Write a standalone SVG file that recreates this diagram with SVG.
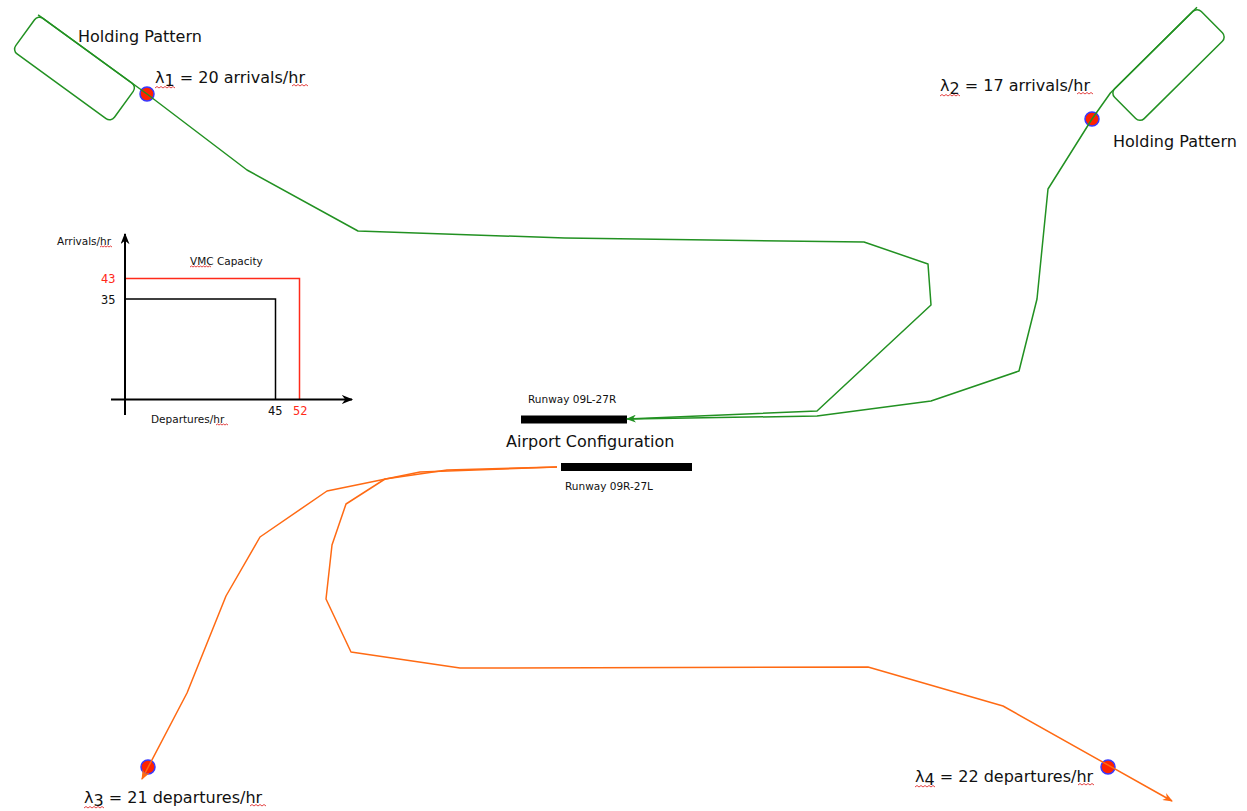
<svg xmlns="http://www.w3.org/2000/svg" width="1247" height="811" viewBox="0 0 1247 811">
<style>
text{font-family:"DejaVu Sans","Liberation Sans",sans-serif;fill:#111}
.big{font-size:16px}
.sm{font-size:10.5px}
.num{font-family:"DejaVu Sans Mono","Liberation Mono",monospace;font-size:12px}
.g{fill:none;stroke:#229122;stroke-width:1.5;stroke-linejoin:round}
.o{fill:none;stroke:#ff6a13;stroke-width:1.5;stroke-linejoin:round}
.dot{fill:#ff2200;stroke:#3838ff;stroke-width:1.5}
.sq{fill:none;stroke:#e03030;stroke-width:0.9}
.ax{stroke:#000;stroke-width:2;fill:none}
.red{fill:#ff2a1a}
</style>
<defs>
<marker id="ag" viewBox="0 0 10 8" refX="9" refY="4" markerWidth="10" markerHeight="8" markerUnits="userSpaceOnUse" orient="auto"><path d="M0,0 L10,4 L0,8 L3,4 z" fill="#229122"/></marker>
<marker id="ao" viewBox="0 0 10 8" refX="9" refY="4" markerWidth="10" markerHeight="8" markerUnits="userSpaceOnUse" orient="auto"><path d="M0,0 L10,4 L0,8 L3,4 z" fill="#ff6a13"/></marker>
<marker id="ak" viewBox="0 0 10 8" refX="9" refY="4" markerWidth="12" markerHeight="9" markerUnits="userSpaceOnUse" orient="auto"><path d="M0,0 L10,4 L0,8 L3,4 z" fill="#000"/></marker>
</defs>

<g id="holding-left">
<rect x="-61" y="-22" width="122" height="44" rx="6" class="g" transform="translate(74.5,68.5) rotate(36)"/>
<text class="big" x="78" y="42">Holding Pattern</text>
</g>
<g id="holding-right">
<rect x="-61" y="-21" width="122" height="42" rx="6" class="g" transform="translate(1168.5,65) rotate(-44.7)"/>
<text class="big" x="1113" y="147">Holding Pattern</text>
</g>

<g id="lambda1">
<circle class="dot" cx="147" cy="94" r="7"/>
<text class="big" x="155" y="83">λ<tspan dy="3">1</tspan><tspan dy="-3"> = 20 arrivals/hr</tspan></text>
<path class="sq" d="M155,88 l2,-1.5 l2,1.5 l2,-1.5 l2,1.5 l2,-1.5 l2,1.5 l2,-1.5 l2,1.5 l2,-1.5 l2,1.5 M292,86 l2,-1.5 l2,1.5 l2,-1.5 l2,1.5 l2,-1.5 l2,1.5 l2,-1.5 l2,1.5"/>
</g>
<g id="lambda2">
<circle class="dot" cx="1092" cy="119" r="7"/>
<text class="big" x="940" y="91">λ<tspan dy="3">2</tspan><tspan dy="-3"> = 17 arrivals/hr</tspan></text>
<path class="sq" d="M940,96 l2,-1.5 l2,1.5 l2,-1.5 l2,1.5 l2,-1.5 l2,1.5 l2,-1.5 l2,1.5 l2,-1.5 l2,1.5 M1077,94 l2,-1.5 l2,1.5 l2,-1.5 l2,1.5 l2,-1.5 l2,1.5 l2,-1.5 l2,1.5"/>
</g>
<g id="lambda3">
<circle class="dot" cx="148" cy="767" r="7"/>
<text class="big" x="84" y="803">λ<tspan dy="3">3</tspan><tspan dy="-3"> = 21 departures/hr</tspan></text>
<path class="sq" d="M84,808 l2,-1.5 l2,1.5 l2,-1.5 l2,1.5 l2,-1.5 l2,1.5 l2,-1.5 l2,1.5 l2,-1.5 l2,1.5 M250,806 l2,-1.5 l2,1.5 l2,-1.5 l2,1.5 l2,-1.5 l2,1.5 l2,-1.5 l2,1.5"/>
</g>
<g id="lambda4">
<circle class="dot" cx="1108" cy="767" r="7"/>
<text class="big" x="915" y="782">λ<tspan dy="3">4</tspan><tspan dy="-3"> = 22 departures/hr</tspan></text>
<path class="sq" d="M915,787 l2,-1.5 l2,1.5 l2,-1.5 l2,1.5 l2,-1.5 l2,1.5 l2,-1.5 l2,1.5 l2,-1.5 l2,1.5 M1078,785 l2,-1.5 l2,1.5 l2,-1.5 l2,1.5 l2,-1.5 l2,1.5 l2,-1.5 l2,1.5"/>
</g>

<g id="capacity-chart">
<path d="M125,278.5 H299.5 V399" fill="none" stroke="#ff2a1a" stroke-width="1.5"/>
<path d="M125,299 H275.5 V399" fill="none" stroke="#000" stroke-width="1.5"/>
<line class="ax" x1="125" y1="415" x2="125" y2="234" marker-end="url(#ak)"/>
<line class="ax" x1="111" y1="399.5" x2="352" y2="399.5" marker-end="url(#ak)"/>
<text class="sm" x="57" y="245">Arrivals/hr</text>
<text class="sm" x="190" y="265">VMC Capacity</text>
<text class="num red" x="101" y="283">43</text>
<text class="num" x="101" y="304">35</text>
<text class="num" x="268" y="415">45</text>
<text class="num red" x="293" y="415">52</text>
<text class="sm" x="151" y="423">Departures/hr</text>
<path class="sq" d="M100,247 l1.5,-1 l1.5,1 l1.5,-1 l1.5,1 l1.5,-1 l1.5,1 l1.5,-1 l1.5,1 M190,267 l1.5,-1 l1.5,1 l1.5,-1 l1.5,1 l1.5,-1 l1.5,1 l1.5,-1 l1.5,1 l1.5,-1 l1.5,1 l1.5,-1 l1.5,1 l1.5,-1 l1.5,1 M216,425 l1.5,-1 l1.5,1 l1.5,-1 l1.5,1 l1.5,-1 l1.5,1 l1.5,-1 l1.5,1"/>
</g>

<g id="airport">
<rect x="521" y="415.5" width="106" height="8" fill="#000"/>
<rect x="561" y="463" width="131" height="8" fill="#000"/>
<text class="sm" x="528" y="403">Runway 09L-27R</text>
<text class="sm" x="565" y="490">Runway 09R-27L</text>
<text x="506" y="447" font-size="16">Airport Configuration</text>
</g>

<g id="connectors">
<path class="g" d="M38.1,14.85 L147,94 L247,170 L358,231 L565,238 L864,242 L928,264 L931,305 L817,411 L627,419" marker-end="url(#ag)"/>
<path class="g" d="M1197,7.2 L1110.4,93 L1092,119 L1048,189 L1037,299 L1019,371 L931,401 L817,416 L629,419"/>
<path class="o" d="M557,467 L420,472 L327,491 L260,537 L226,596 L187,693 L142,779" marker-end="url(#ao)"/>
<path class="o" d="M557,467 L447,470 L385,479 L346,504 L332,545 L326,599 L351,652 L460,668 L868,667 L1003,706 L1172,801" marker-end="url(#ao)"/>
</g>
</svg>
